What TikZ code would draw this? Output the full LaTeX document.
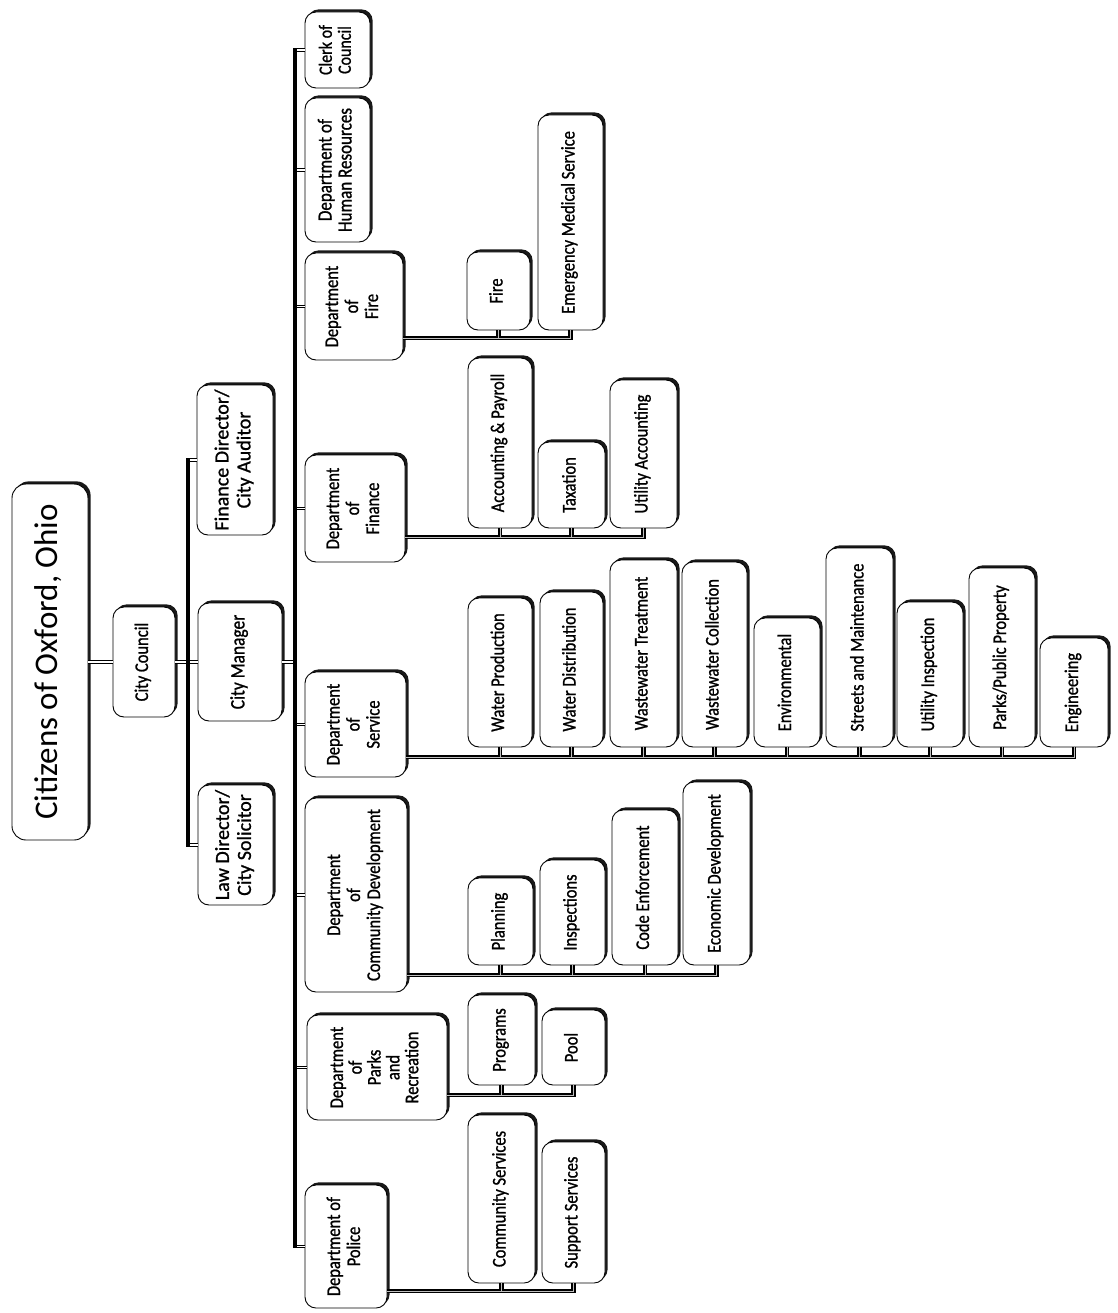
\documentclass[tikz,border=0pt]{standalone}
\usepackage{fontspec}
\setmainfont{Carlito}
\newfontfamily\cond{Carlito}[FakeStretch=0.85,FakeBold=1]
\newfontfamily\regb{Carlito}[FakeBold=1]
\usetikzlibrary{shadows}
\tikzset{
  box/.style={draw=black, line width=0.9pt, fill=white, rounded corners=11pt, inner sep=0pt,
    font=\cond\fontsize{19.4}{20}\selectfont,
    drop shadow={shadow xshift=2.6pt, shadow yshift=2.6pt, fill=black, opacity=0.9}},
  dbl/.style={draw=black, line width=1pt, double=white, double distance=1.6pt},
  branch/.style={draw=black, line width=1.8pt, double=gray!50, double distance=0.9pt},
  bus/.style={draw=black, line width=3.4pt, line cap=rect},
}
\newcommand\ob[7][]{%
  \node[box, minimum width={#5pt-#3pt}, minimum height={#6pt-#4pt}, #1] (#2)
    at ({(#3+#5)/2},{(#4+#6)/2}) {\rotatebox{90}{\begin{tabular}{@{}c@{}}#7\end{tabular}}};}
\begin{document}
\begin{tikzpicture}[x=1pt,y=-1pt]
\fill[white] (0,0) rectangle (1117,1313);
\useasboundingbox (0,0) rectangle (1117,1313);
% top levels
\ob[font=\fontsize{33}{36}\selectfont, rounded corners=14pt]{title}{12}{484}{88}{840}{Citizens of Oxford, Ohio}
\ob{council}{113}{607}{175}{717}{City Council}
\ob[font=\cond\fontsize{20.5}{22}\selectfont]{manager}{198}{603}{282}{721}{City Manager}
\ob[font=\regb\fontsize{20}{22}\selectfont]{findir}{197}{385}{273}{535}{Finance Director/\\City Auditor}
\ob[font=\regb\fontsize{20}{22}\selectfont]{lawdir}{198}{785}{273}{905}{Law Director/\\City Solicitor}
% departments
\ob[font=\cond\fontsize{18.8}{19}\selectfont]{clerk}{305}{12}{370}{88}{Clerk of\\Council}
\ob[font=\cond\fontsize{20}{20}\selectfont]{hr}{305}{98}{370}{242}{Department of\\Human Resources}
\ob{fire}{305}{253}{403}{360}{Department\\of\\Fire}
\ob{finance}{305}{455}{405}{562}{Department\\of\\Finance}
\ob{service}{305}{672}{406}{777}{Department\\of\\Service}
\ob{commdev}{305}{798}{407}{992}{Department\\of\\Community Development}
\ob[font=\cond\fontsize{19.4}{18}\selectfont]{parks}{307}{1015}{447}{1120}{Department\\of\\Parks\\and\\Recreation}
\ob{police}{305}{1185}{387}{1308}{Department of\\Police}
% fire
\ob{firefire}{467}{252}{530}{330}{Fire}
\ob{ems}{538}{115}{603}{330}{Emergency Medical Service}
% finance
\ob{acc}{468}{358}{532}{528}{Accounting \& Payroll}
\ob{tax}{538}{442}{605}{528}{Taxation}
\ob{uacc}{610}{380}{677}{528}{Utility Accounting}
% service
\ob{wprod}{468}{598}{532}{747}{Water Production}
\ob{wdist}{540}{592}{603}{747}{Water Distribution}
\ob{wwt}{610}{560}{677}{747}{Wastewater Treatment}
\ob{wwc}{682}{562}{747}{747}{Wastewater Collection}
\ob{env}{754}{618}{820}{747}{Environmental}
\ob{streets}{826}{548}{893}{747}{Streets and Maintenance}
\ob{uinsp}{897}{602}{963}{747}{Utility Inspection}
\ob{pprop}{969}{568}{1035}{747}{Parks/Public Property}
\ob{eng}{1040}{638}{1108}{747}{Engineering}
% community development
\ob{plan}{468}{878}{533}{965}{Planning}
\ob{insp}{540}{860}{605}{965}{Inspections}
\ob{code}{612}{810}{678}{965}{Code Enforcement}
\ob{econ}{683}{782}{750}{965}{Economic Development}
% parks
\ob{prog}{468}{995}{535}{1085}{Programs}
\ob{pool}{542}{1010}{605}{1085}{Pool}
% police
\ob{comm}{468}{1115}{535}{1283}{Community Services}
\ob{supp}{542}{1142}{605}{1283}{Support Services}

% connectors
\coordinate (cb) at (188,0);
\coordinate (tk) at (295,0);
\draw[dbl] (title.east) -- (council.west);
\draw[dbl] (council.east) -- (manager.west);
\draw[dbl] (findir.west) -- (findir.west -| cb);
\draw[dbl] (lawdir.west) -- (lawdir.west -| cb);
\draw[bus] (findir.west -| cb) -- (lawdir.west -| cb);
\draw[dbl] (manager.east) -- (manager.east -| tk);
\foreach \d in {clerk,hr,fire,finance,service,commdev,parks,police}
  \draw[dbl] (\d.west) -- (\d.west -| tk);
\draw[bus] (clerk.west -| tk) -- (police.west -| tk);

% branches
\coordinate (bfire) at (0,338);
\coordinate (bfin) at (0,537);
\coordinate (bser) at (0,757);
\coordinate (bcom) at (0,975);
\coordinate (bpar) at (0,1095);
\coordinate (bpol) at (0,1291);
\draw[branch] (fire.east |- bfire) -| (ems.south);
\draw[branch] (firefire.south) -- (firefire.south |- bfire);
\draw[branch] (finance.east |- bfin) -| (uacc.south);
\foreach \c in {acc,tax} \draw[branch] (\c.south) -- (\c.south |- bfin);
\draw[branch] (service.east |- bser) -| (eng.south);
\foreach \c in {wprod,wdist,wwt,wwc,env,streets,uinsp,pprop} \draw[branch] (\c.south) -- (\c.south |- bser);
\draw[branch] (commdev.east |- bcom) -| (econ.south);
\foreach \c in {plan,insp,code} \draw[branch] (\c.south) -- (\c.south |- bcom);
\draw[branch] (parks.east |- bpar) -| (pool.south);
\draw[branch] (prog.south) -- (prog.south |- bpar);
\draw[branch] (police.east |- bpol) -| (supp.south);
\draw[branch] (comm.south) -- (comm.south |- bpol);
\end{tikzpicture}
\end{document}
